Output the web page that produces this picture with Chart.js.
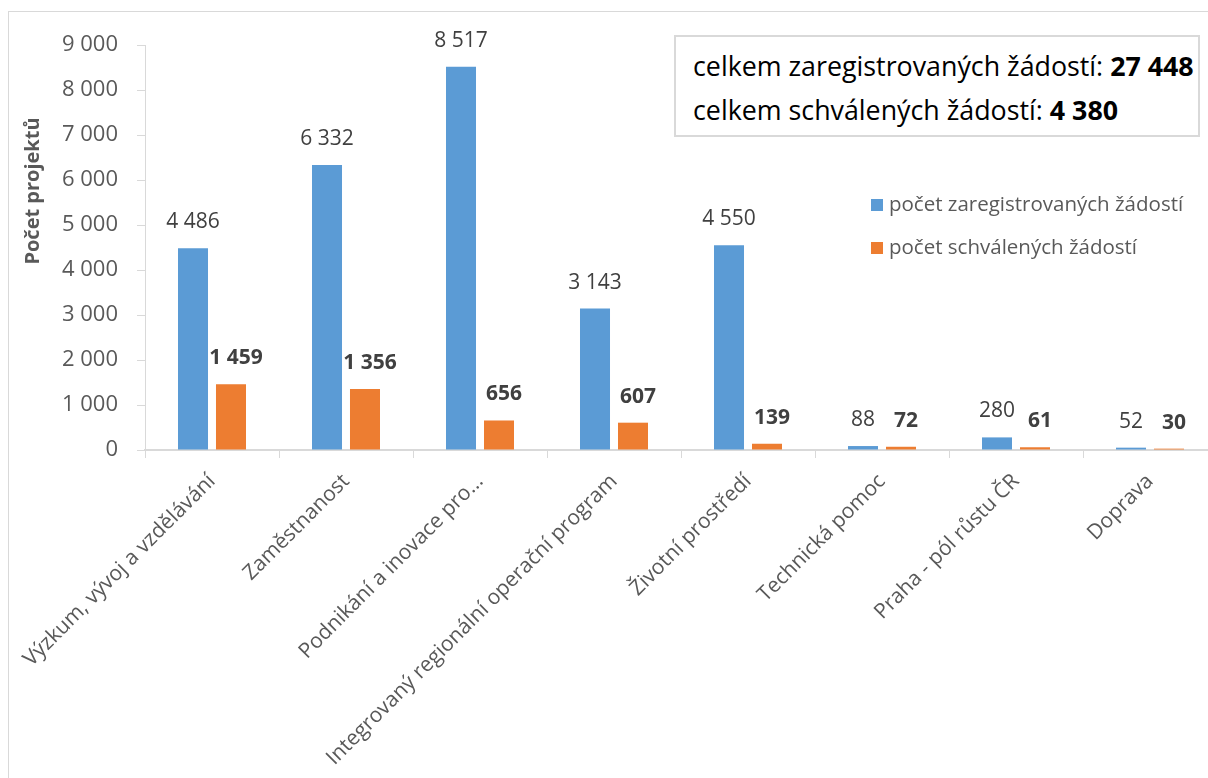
<!DOCTYPE html>
<html><head><meta charset="utf-8">
<script src="https://cdn.jsdelivr.net/npm/chart.js@4.4.1/dist/chart.umd.min.js"></script>
<style>
html,body{margin:0;padding:0;background:#fff;overflow:hidden;width:1208px;height:778px;position:relative}
#frame{position:absolute;left:8px;top:11px;width:1300px;height:900px;border:1px solid #d9d9d9}
#wrap{position:absolute;left:0;top:0;width:1217px;height:778px}
#info{position:absolute;left:674px;top:35px;width:526px;height:102px;border:2px solid #d9d9d9;box-sizing:border-box;
 font-family:'Open Sans',sans-serif;font-size:26.8px;color:#000;padding:7px 0 0 17px;line-height:44px;background:#fff;white-space:nowrap}
#info b{font-weight:700}
</style></head>
<body>
<div id="frame"></div>
<div id="wrap"><canvas id="c"></canvas></div>
<div id="info"><div>celkem zaregistrovaných žádostí: <b>27 448</b></div><div>celkem schválených žádostí: <b>4 380</b></div></div>
<script>
const categories = ["Výzkum, vývoj a vzdělávání","Zaměstnanost","Podnikání a inovace pro...","Integrovaný regionální operační program","Životní prostředí","Technická pomoc","Praha - pól růstu ČR","Doprava"];
const registered = [4486,6332,8517,3143,4550,88,280,52];
const approved = [1459,1356,656,607,139,72,61,30];
const seriesNames = ["počet zaregistrovaných žádostí","počet schválených žádostí"];
const yTitle = "Počet projektů";
const colors = ["#5B9BD5","#ED7D31"];

const fmt = n => String(n).replace(/\B(?=(\d{3})+(?!\d))/g,' ');
const FONT = "'Open Sans', sans-serif";

const overlay = {
  id:'overlay',
  afterDatasetsDraw(chart){
    const ctx = chart.ctx;
    ctx.save();
    ctx.textAlign='center'; ctx.textBaseline='middle'; ctx.fillStyle='#404040';
    chart.data.datasets.forEach((ds,i)=>{
      const meta = chart.getDatasetMeta(i);
      ctx.font = (i===1?'bold ':'')+'21px '+FONT;
      meta.data.forEach((el,j)=>{
        ctx.fillText(fmt(ds.data[j]), el.x + (i===1?5:0), el.y - 26);
      });
    });
    // y title
    ctx.save();
    ctx.translate(33,191); ctx.rotate(-Math.PI/2);
    ctx.font='bold 20px '+FONT; ctx.fillStyle='#595959';
    ctx.fillText(yTitle,0,0);
    ctx.restore();
    // legend
    ctx.font='20.5px '+FONT; ctx.textAlign='left'; ctx.fillStyle='#595959';
    const ly=[205,248];
    seriesNames.forEach((s,i)=>{
      ctx.fillStyle=colors[i]; ctx.fillRect(871,ly[i]-6,12,12);
      ctx.fillStyle='#595959'; ctx.fillText(s,889,ly[i]);
    });
    ctx.restore();
  }
};

new Chart(document.getElementById('c'),{
  type:'bar',
  data:{labels:categories,datasets:[
    {label:seriesNames[0],data:registered,backgroundColor:colors[0]},
    {label:seriesNames[1],data:approved,backgroundColor:colors[1]}
  ]},
  options:{
    responsive:true,maintainAspectRatio:false,animation:false,
    categoryPercentage:0.567,barPercentage:0.79,
    layout:{padding:{top:45,left:0,right:0,bottom:0}},
    plugins:{legend:{display:false},tooltip:{enabled:false}},
    scales:{
      x:{
        grid:{offset:true,drawOnChartArea:false,drawTicks:true,tickLength:8,color:'#d9d9d9'},
        border:{color:'#d9d9d9',width:2},
        ticks:{autoSkip:false,minRotation:45,maxRotation:45,color:'#595959',font:{family:FONT,size:21},padding:11},
        afterFit(s){s.height=328;}
      },
      y:{
        min:0,max:9000,
        grid:{drawOnChartArea:false,drawTicks:true,tickLength:8,color:'#d9d9d9'},
        border:{color:'#d9d9d9',width:1},
        ticks:{stepSize:1000,color:'#595959',font:{family:FONT,size:22},padding:19,callback:v=>fmt(v)},
        afterFit(s){s.width=145;}
      }
    }
  },
  plugins:[overlay]
});
</script>
</body></html>
